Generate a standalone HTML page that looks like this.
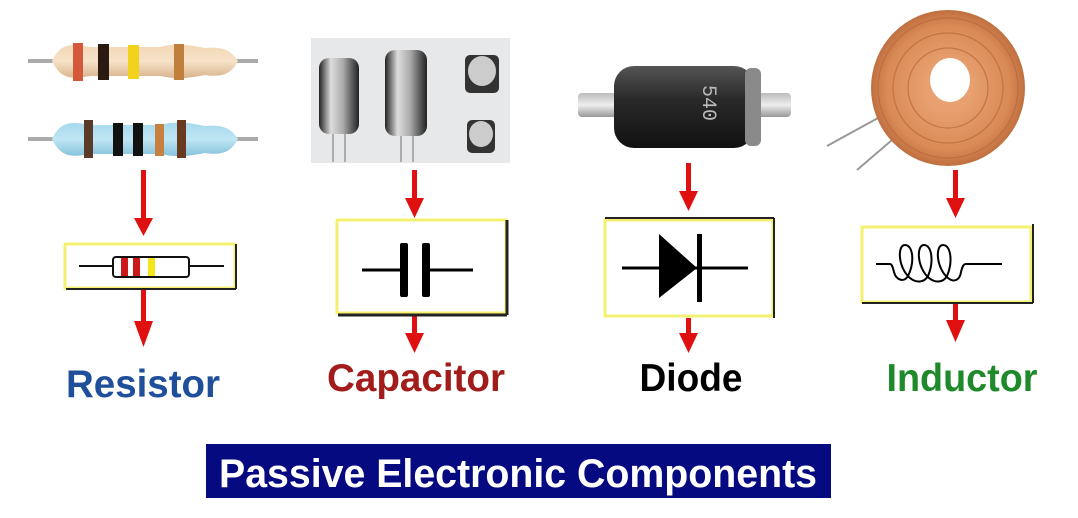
<!DOCTYPE html>
<html><head><meta charset="utf-8"><style>
html,body{margin:0;padding:0;background:#fff;width:1078px;height:518px;overflow:hidden}
svg{display:block}
.lbl{font-family:"Liberation Sans",sans-serif;font-weight:bold;font-size:39px}
</style></head><body>
<svg width="1078" height="518" viewBox="0 0 1078 518" xmlns="http://www.w3.org/2000/svg">
<defs>
<linearGradient id="beige" x1="0" y1="0" x2="0" y2="1"><stop offset="0" stop-color="#f3d7b5"/><stop offset="0.5" stop-color="#f6e2c8"/><stop offset="1" stop-color="#d9b48c"/></linearGradient>
<linearGradient id="blue" x1="0" y1="0" x2="0" y2="1"><stop offset="0" stop-color="#a5d8ec"/><stop offset="0.5" stop-color="#bfe6f4"/><stop offset="1" stop-color="#86c2dc"/></linearGradient>
<linearGradient id="cap" x1="0" y1="0" x2="1" y2="0"><stop offset="0" stop-color="#222"/><stop offset="0.3" stop-color="#ddd"/><stop offset="0.6" stop-color="#aaa"/><stop offset="1" stop-color="#222"/></linearGradient>
<linearGradient id="wire" x1="0" y1="0" x2="0" y2="1"><stop offset="0" stop-color="#bbb"/><stop offset="0.5" stop-color="#eee"/><stop offset="1" stop-color="#999"/></linearGradient>
<linearGradient id="dio" x1="0" y1="0" x2="0" y2="1"><stop offset="0" stop-color="#555"/><stop offset="0.4" stop-color="#2a2a2a"/><stop offset="1" stop-color="#111"/></linearGradient>
<radialGradient id="cu" cx="0.5" cy="0.5" r="0.5"><stop offset="0.3" stop-color="#e8a070"/><stop offset="0.8" stop-color="#d98a55"/><stop offset="1" stop-color="#c07040"/></radialGradient>
</defs>

<rect x="28" y="59" width="230" height="4" fill="#aaa"/>
<path d="M52,61 C60,44 70,43 90,47 L160,47 C175,43 185,44 205,48 C225,46 232,52 238,61 C232,72 225,78 205,75 C185,79 175,79 160,76 L90,76 C70,80 60,78 52,61Z" fill="url(#beige)"/>
<rect x="73" y="43" width="10" height="38" fill="#d4583a"/>
<rect x="98" y="44" width="11" height="36" fill="#2a1a12"/>
<rect x="128" y="45" width="11" height="34" fill="#f2d21a"/>
<rect x="174" y="44" width="10" height="36" fill="#c0803c"/>
<rect x="28" y="137" width="230" height="4" fill="#aaa"/>
<path d="M52,139 C60,122 70,121 90,125 L160,125 C175,121 185,122 205,126 C225,124 232,130 238,139 C232,150 225,156 205,153 C185,157 175,157 160,154 L90,154 C70,158 60,156 52,139Z" fill="url(#blue)"/>
<rect x="84" y="120" width="9" height="38" fill="#5a3a28"/>
<rect x="113" y="123" width="10" height="33" fill="#111"/>
<rect x="133" y="123" width="10" height="33" fill="#111"/>
<rect x="155" y="124" width="9" height="32" fill="#c88040"/>
<rect x="177" y="120" width="9" height="38" fill="#6a3a20"/>

<rect x="311" y="38" width="199" height="125" fill="#e6e8ea"/>
<rect x="319" y="58" width="40" height="76" rx="10" fill="url(#cap)"/>
<rect x="385" y="50" width="42" height="86" rx="10" fill="url(#cap)"/>
<g stroke="#999" stroke-width="1.5"><line x1="333" y1="134" x2="333" y2="162"/><line x1="345" y1="134" x2="345" y2="162"/><line x1="401" y1="136" x2="401" y2="162"/><line x1="413" y1="136" x2="413" y2="162"/></g>
<rect x="465" y="55" width="34" height="38" rx="5" fill="#333"/>
<ellipse cx="482" cy="71" rx="14" ry="15" fill="#ccc"/>
<rect x="467" y="120" width="28" height="33" rx="5" fill="#333"/>
<ellipse cx="481" cy="134" rx="12" ry="13" fill="#ccc"/>

<rect x="578" y="93" width="213" height="24" rx="4" fill="url(#wire)"/>
<rect x="614" y="66" width="140" height="82" rx="20" fill="url(#dio)"/>
<rect x="745" y="68" width="16" height="78" rx="6" fill="#8a8a8a"/>
<text x="670" y="92" font-family="Liberation Mono,monospace" font-size="20" fill="#bbb" transform="rotate(90 690 105)">540</text>

<line x1="827" y1="146" x2="878" y2="118" stroke="#999" stroke-width="2"/>
<line x1="857" y1="170" x2="892" y2="140" stroke="#999" stroke-width="2"/>
<ellipse cx="948" cy="88" rx="77" ry="78" fill="url(#cu)"/>
<g stroke="#b8683a" stroke-width="1.2" fill="none" opacity="0.7">
<circle cx="948" cy="88" r="70"/><circle cx="948" cy="88" r="55"/><circle cx="948" cy="88" r="40"/>
</g>
<ellipse cx="950" cy="80" rx="20" ry="22" fill="#fff"/>

<g fill="#e01010" stroke="none">
<rect x="141" y="170" width="5" height="48"/><polygon points="134,218 153,218 143.5,236"/>
<rect x="141" y="289" width="5" height="32"/><polygon points="134,321 153,321 143.5,347"/>
<rect x="412" y="170" width="5" height="30"/><polygon points="405,198 424,198 414.5,218"/>
<rect x="412" y="315" width="5" height="20"/><polygon points="405,333 424,333 414.5,353"/>
<rect x="686" y="163" width="5" height="30"/><polygon points="679,191 698,191 688.5,211"/>
<rect x="686" y="318" width="5" height="18"/><polygon points="679,333 698,333 688.5,353"/>
<rect x="953" y="170" width="5" height="30"/><polygon points="946,198 965,198 955.5,218"/>
<rect x="953" y="303" width="5" height="18"/><polygon points="946,320 965,320 955.5,342"/>
</g>

<rect x="65" y="244" width="170" height="44" fill="#fff" stroke="#f4f070" stroke-width="3"/>
<line x1="66" y1="289" x2="236" y2="289" stroke="#222" stroke-width="2"/><line x1="236" y1="244" x2="236" y2="289" stroke="#222" stroke-width="2"/>
<line x1="79" y1="266" x2="113" y2="266" stroke="#111" stroke-width="2"/>
<line x1="189" y1="266" x2="224" y2="266" stroke="#111" stroke-width="2"/>
<rect x="113" y="257" width="76" height="20" rx="3" fill="#fff" stroke="#111" stroke-width="2"/>
<rect x="121" y="258" width="7" height="18" fill="#cc1a1a"/>
<rect x="133" y="258" width="7" height="18" fill="#cc1a1a"/>
<rect x="148" y="258" width="7" height="18" fill="#f5e61a"/>

<rect x="337" y="220" width="169" height="93" fill="#fff" stroke="#f4f070" stroke-width="3"/>
<line x1="338" y1="315" x2="507" y2="315" stroke="#222" stroke-width="3"/><line x1="507" y1="220" x2="507" y2="315" stroke="#222" stroke-width="3"/>
<line x1="362" y1="270" x2="403" y2="270" stroke="#000" stroke-width="3"/>
<line x1="426" y1="270" x2="473" y2="270" stroke="#000" stroke-width="3"/>
<rect x="400" y="243" width="8" height="54" rx="2" fill="#000"/>
<rect x="422" y="243" width="8" height="54" rx="2" fill="#000"/>

<rect x="605" y="220" width="168" height="96" fill="#fff" stroke="#f4f070" stroke-width="3"/>
<line x1="605" y1="218" x2="774" y2="218" stroke="#222" stroke-width="2"/><line x1="774" y1="218" x2="774" y2="318" stroke="#222" stroke-width="2"/>
<line x1="622" y1="268" x2="748" y2="268" stroke="#000" stroke-width="3"/>
<polygon points="659,234 659,298 697,268" fill="#000"/>
<rect x="697" y="234" width="5" height="68" fill="#000"/>

<rect x="862" y="227" width="169" height="75" fill="#fff" stroke="#f4f070" stroke-width="3"/>
<line x1="862" y1="303" x2="1033" y2="303" stroke="#222" stroke-width="2"/><line x1="1033" y1="224" x2="1033" y2="303" stroke="#222" stroke-width="2"/>
<path d="M876,264 L890,264 C892,264 893,268 894,272 C896,280 904,283 908,276 C915,262 913,245 905,245 C897,245 898,268 910,278 C916,283 924,283 928,276 C934,262 932,245 924,245 C916,245 917,268 929,278 C935,283 943,283 947,276 C953,262 951,245 943,245 C935,245 936,268 948,278 C954,283 960,280 961,272 C962,268 963,264 966,264 L1002,264" fill="none" stroke="#000" stroke-width="2"/>

<text class="lbl" x="143" y="397" fill="#1f4e9a" text-anchor="middle" textLength="154" lengthAdjust="spacingAndGlyphs">Resistor</text>
<text class="lbl" x="416" y="391" fill="#a21c1c" text-anchor="middle" textLength="178" lengthAdjust="spacingAndGlyphs">Capacitor</text>
<text class="lbl" x="691" y="391" fill="#000" text-anchor="middle" textLength="103" lengthAdjust="spacingAndGlyphs">Diode</text>
<text class="lbl" x="962" y="391" fill="#1f8a2a" text-anchor="middle" textLength="151" lengthAdjust="spacingAndGlyphs">Inductor</text>

<rect x="206" y="444" width="625" height="54" fill="#050a80"/>
<text x="518" y="487" font-family="Liberation Sans,sans-serif" font-weight="bold" font-size="40" fill="#fff" text-anchor="middle" textLength="598" lengthAdjust="spacingAndGlyphs">Passive Electronic Components</text>
</svg>
</body></html>
